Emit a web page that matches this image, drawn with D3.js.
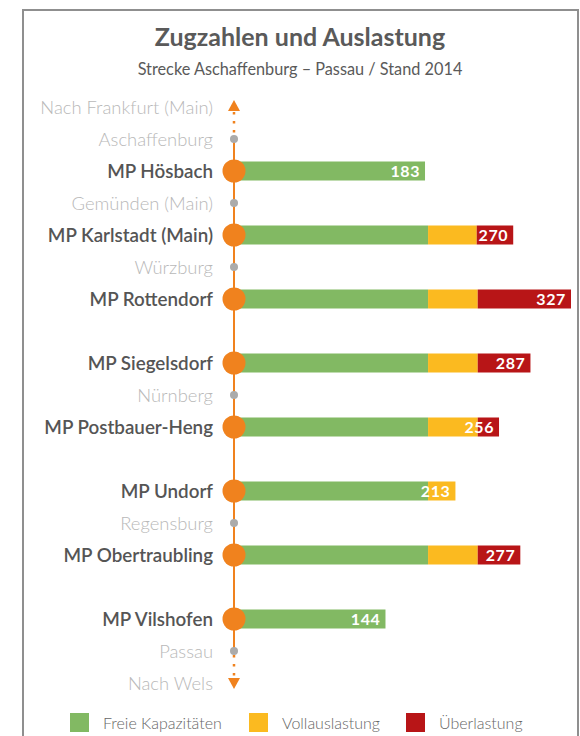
<!DOCTYPE html>
<html>
<head>
<meta charset="utf-8">
<script src="https://cdn.jsdelivr.net/npm/d3@7"></script>
<style>
  body { margin: 0; background: #fff; }
  text { font-family: Lato, 'Open Sans', sans-serif; }
</style>
</head>
<body>
<div id="chart"></div>
<script>
// rows along the line, top to bottom ('' = gap)
const rows = ['Nach Frankfurt (Main)', 'Aschaffenburg', 'MP Hösbach', 'Gemünden (Main)',
  'MP Karlstadt (Main)', 'Würzburg', 'MP Rottendorf', '', 'MP Siegelsdorf', 'Nürnberg',
  'MP Postbauer-Heng', '', 'MP Undorf', 'Regensburg', 'MP Obertraubling', '',
  'MP Vilshofen', 'Passau', 'Nach Wels']
const rowTypes = ['arrowUp', 'station', 'mp', 'station', 'mp', 'station', 'mp', 'gap', 'mp',
  'station', 'mp', 'gap', 'mp', 'station', 'mp', 'gap', 'mp', 'station', 'arrowDown']

// measuring points
const mpNames = ['MP Hösbach', 'MP Karlstadt (Main)', 'MP Rottendorf', 'MP Siegelsdorf',
  'MP Postbauer-Heng', 'MP Undorf', 'MP Obertraubling', 'MP Vilshofen']
const totals = [183, 270, 327, 287, 256, 213, 277, 144]
const frei = [183, 186, 186, 186, 186, 186, 186, 144]
const voll = [0, 48, 49, 49, 49, 27, 49, 0]
const ueber = [0, 36, 92, 52, 21, 0, 42, 0]

const legendLabels = ['Freie Kapazitäten', 'Vollauslastung', 'Überlastung']
const colors = ['#82b963', '#fbba20', '#b81517']

const fullWidth = 580, fullHeight = 736
const lineX = 234
const orange = '#f0821e'

const svg = d3.select('#chart')
  .append('svg')
    .attr('width', fullWidth)
    .attr('height', fullHeight)

// frame
svg.append('path')
  .attr('d', 'M23,737 V10 H578 V737')
  .attr('fill', 'none')
  .attr('stroke', '#8f8f8f')
  .attr('stroke-width', 2)

svg.append('text')
  .attr('x', 300).attr('y', 46)
  .attr('text-anchor', 'middle')
  .attr('font-size', 25)
  .attr('font-weight', 700)
  .attr('fill', '#5a5a5a')
  .text('Zugzahlen und Auslastung')

svg.append('text')
  .attr('x', 300).attr('y', 75)
  .attr('text-anchor', 'middle')
  .attr('font-size', 16.3)
  .attr('fill', '#5a5a5a')
  .text('Strecke Aschaffenburg – Passau / Stand 2014')

const yScale = d3.scalePoint()
  .domain(d3.range(rows.length))
  .range([107, 683])

const xScale = d3.scaleLinear()
  .domain([0, 327])
  .range([239.5, 571])

// line: dotted ends, solid middle
const yFirst = yScale(1), yLast = yScale(rows.length - 2)
svg.append('line')
  .attr('x1', lineX).attr('x2', lineX)
  .attr('y1', yFirst).attr('y2', yLast)
  .attr('stroke', orange).attr('stroke-width', 2)

svg.append('g')
  .selectAll('line')
  .data([[yScale(0) + 5, yFirst - 4], [yLast + 4, yScale(rows.length - 1) - 5]])
  .enter()
  .append('line')
    .attr('x1', lineX).attr('x2', lineX)
    .attr('y1', d => d[0]).attr('y2', d => d[1])
    .attr('stroke', orange).attr('stroke-width', 2.5)
    .attr('stroke-dasharray', '2.5,6.5')
    .attr('stroke-linecap', 'butt')

// arrows
svg.append('path')
  .attr('d', `M${lineX},${yScale(0) - 7} l6,11 h-12 z`)
  .attr('fill', orange)
svg.append('path')
  .attr('d', `M${lineX},${yScale(rows.length - 1) + 6} l6,-11 h-12 z`)
  .attr('fill', orange)

// bars
const bars = svg.append('g')
mpNames.forEach((name, i) => {
  const y = yScale(rows.indexOf(name))
  const segs = [frei[i], voll[i], ueber[i]]
  let start = 0
  segs.forEach((v, j) => {
    if (v > 0) {
      bars.append('rect')
        .attr('x', j === 0 ? lineX : xScale(start))
        .attr('y', y - 9.5)
        .attr('width', xScale(start + v) - (j === 0 ? lineX : xScale(start)))
        .attr('height', 19)
        .attr('fill', colors[j])
    }
    start += v
  })
  bars.append('text')
    .attr('x', xScale(totals[i]) - 5)
    .attr('y', y)
    .attr('dy', '0.36em')
    .attr('text-anchor', 'end')
    .attr('font-size', 16)
    .attr('font-weight', 700)
    .attr('letter-spacing', 0.6)
    .attr('fill', '#fff')
    .text(totals[i])
})

// nodes
const nodes = svg.append('g')
rows.forEach((name, i) => {
  const type = rowTypes[i]
  if (type === 'station') {
    nodes.append('circle')
      .attr('cx', lineX).attr('cy', yScale(i)).attr('r', 4)
      .attr('fill', '#ababab')
  } else if (type === 'mp') {
    nodes.append('circle')
      .attr('cx', lineX).attr('cy', yScale(i)).attr('r', 11.5)
      .attr('fill', orange)
  }
})

// row labels
svg.append('g')
  .selectAll('text')
  .data(rows.map((name, i) => ({ name, type: rowTypes[i], y: yScale(i) })).filter(d => d.name))
  .enter()
  .append('text')
    .attr('x', 213)
    .attr('y', d => d.y)
    .attr('dy', '0.36em')
    .attr('text-anchor', 'end')
    .attr('font-size', d => d.type === 'mp' ? 18.8 : 18.4)
    .attr('font-weight', d => d.type === 'mp' ? 600 : 300)
    .attr('fill', d => d.type === 'mp' ? '#555' : '#b8b8b8')
    .text(d => d.name)

// legend
const legendX = [70, 249, 406]
const legend = svg.append('g')
  .selectAll('g')
  .data(legendLabels)
  .enter()
  .append('g')
    .attr('transform', (d, i) => `translate(${legendX[i]}, 713)`)
legend.append('rect')
  .attr('width', 19).attr('height', 19)
  .attr('fill', (d, i) => colors[i])
legend.append('text')
  .attr('x', 33).attr('y', 10)
  .attr('dy', '0.36em')
  .attr('font-size', 16)
  .attr('font-weight', 300)
  .attr('fill', '#666')
  .text(d => d)
</script>
</body>
</html>
